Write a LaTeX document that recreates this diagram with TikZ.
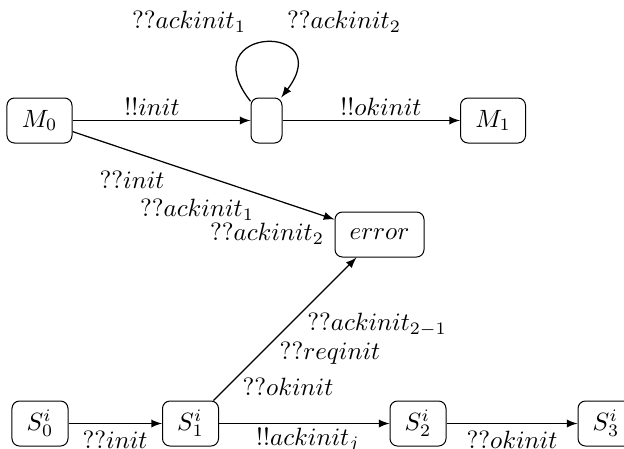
\documentclass[tikz,border=0pt]{standalone}
\begin{document}
\begin{tikzpicture}
[x=0.4pt,y=-0.4pt,>=latex,
  statedecorate/.style={shape=rectangle,rounded corners=3pt,draw,minimum width=22.4pt,minimum height=18pt,inner sep=2pt},
  linedecorate/.style={->,line width=0.5pt}]
\useasboundingbox (0,0) rectangle (624,448);
% master states
\node (M0) at (39.5,120.5) [statedecorate,minimum width=26pt] {$M_0$};
\node (mid) at (266.5,120.5) [statedecorate,minimum width=12.4pt] {};
\node (M1) at (493,120.5) [statedecorate,minimum width=26pt] {$M_1$};
\node (err) at (379.5,234.5) [statedecorate,minimum width=35.6pt] {$error$};
% slave states
\node (S0) at (40,423.5) [statedecorate] {$S^i_0$};
\node (S1) at (190.5,423.5) [statedecorate] {$S^i_1$};
\node (S2) at (418,423.5) [statedecorate] {$S^i_2$};
\node (S3) at (606,423.5) [statedecorate] {$S^i_3$};
% edges
\path
(M0) edge[linedecorate] (mid)
(mid) edge[linedecorate] (M1)
(M0) edge[linedecorate] (err)
(S1) edge[linedecorate] (err)
(S0) edge[linedecorate] (S1)
(S1) edge[linedecorate] (S2)
(S2) edge[linedecorate] (S3);
\draw[linedecorate] ([yshift=-1.5pt]mid.north west) .. controls +(-60,-76) and +(58,-76) .. ([xshift=-0.5pt]mid.north east);
% labels
\node (l1) at (152,107) {$!!init$};
\node (l2) at (381,107) {$!!okinit$};
\node (l3) at (189,22) {$??ackinit_1$};
\node (l4) at (344,22) {$??ackinit_2$};
\node (l5) at (132,180) {$??init$};
\node (l6) at (197,210) {$??ackinit_1$};
\node (l7) at (267,234) {$??ackinit_2$};
\node (l8) at (377,325) {$??ackinit_{2-1}$};
\node (l9) at (330,353) {$??reqinit$};
\node (l10) at (288,387) {$??okinit$};
\node (l11) at (115,440) {$??init$};
\node (l12) at (308,440) {$!!ackinit_j$};
\node (l13) at (512,440) {$??okinit$};
\end{tikzpicture}
\end{document}
